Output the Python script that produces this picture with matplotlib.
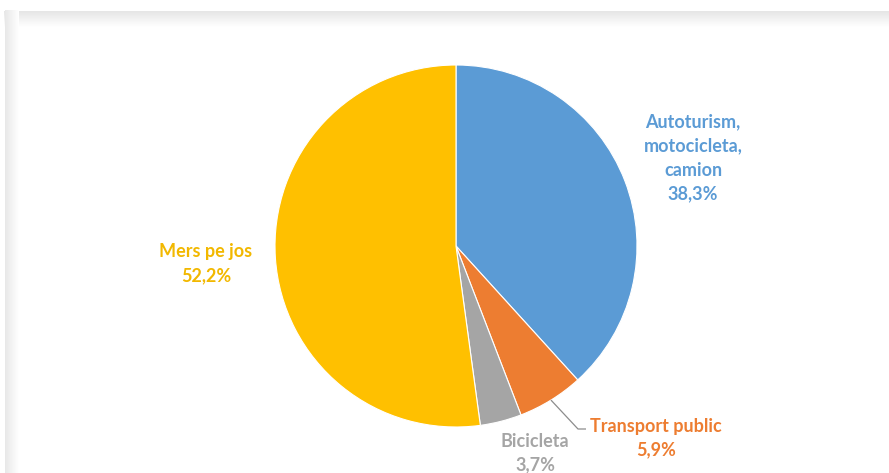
import numpy as np
import matplotlib
matplotlib.use("Agg")
import matplotlib.pyplot as plt

categories = ["Autoturism,\nmotocicleta,\ncamion", "Transport public", "Bicicleta", "Mers pe jos"]
shares = [38.3, 5.9, 3.7, 52.2]
share_labels = ["38,3%", "5,9%", "3,7%", "52,2%"]
colors = ["#5B9BD5", "#ED7D31", "#A5A5A5", "#FFC000"]

W, H = 889, 473
fig = plt.figure(figsize=(W / 100, H / 100), dpi=100)
ax = fig.add_axes([0, 0, 1, 1])
ax.set_xlim(0, W)
ax.set_ylim(0, H)
ax.set_aspect("equal")
ax.axis("off")

# soft shadow along the top and left edges of the chart frame
top = np.linspace(0.90, 1.0, 32).reshape(-1, 1) * np.ones((1, 2))
ax.imshow(np.dstack([top] * 3), extent=(4, W, H - 27, H - 11), origin="upper",
          aspect="auto", zorder=0, interpolation="bilinear")
left = np.linspace(0.91, 1.0, 32).reshape(1, -1) * np.ones((2, 1))
ax.imshow(np.dstack([left] * 3), extent=(5, 19, 0, H - 11), origin="upper",
          aspect="auto", zorder=0, interpolation="bilinear")

cx, cy, r = 456, H - 246, 181
wedges, _ = ax.pie(shares, colors=colors, startangle=90, counterclock=False,
                   center=(cx, cy), radius=r, frame=True,
                   wedgeprops=dict(edgecolor="white", linewidth=0.8))
ax.set_xlim(0, W)
ax.set_ylim(0, H)
ax.axis("off")

font = dict(family=["Lato", "DejaVu Sans"], fontsize=13, fontweight="bold",
            ha="center", va="center", linespacing=1.5)

ax.text(693, H - 158, categories[0] + "\n" + share_labels[0], color=colors[0], **font)
ax.text(656, H - 438, categories[1] + "\n" + share_labels[1], color=colors[1], **font)
ax.text(535, H - 453, categories[2] + "\n" + share_labels[2], color=colors[2], **font)
ax.text(206, H - 264, categories[3] + "\n" + share_labels[3], color="#F2B800", **font)

# leader line for the small orange slice
w = wedges[1]
mid = np.deg2rad((w.theta1 + w.theta2) / 2)
x0, y0 = cx + r * np.cos(mid), cy + r * np.sin(mid)
ax.plot([x0, 578, 586], [y0, H - 429, H - 429], color="#8C8C8C", linewidth=0.9,
        solid_capstyle="butt", zorder=3)

fig.savefig("out.png", dpi=100)
